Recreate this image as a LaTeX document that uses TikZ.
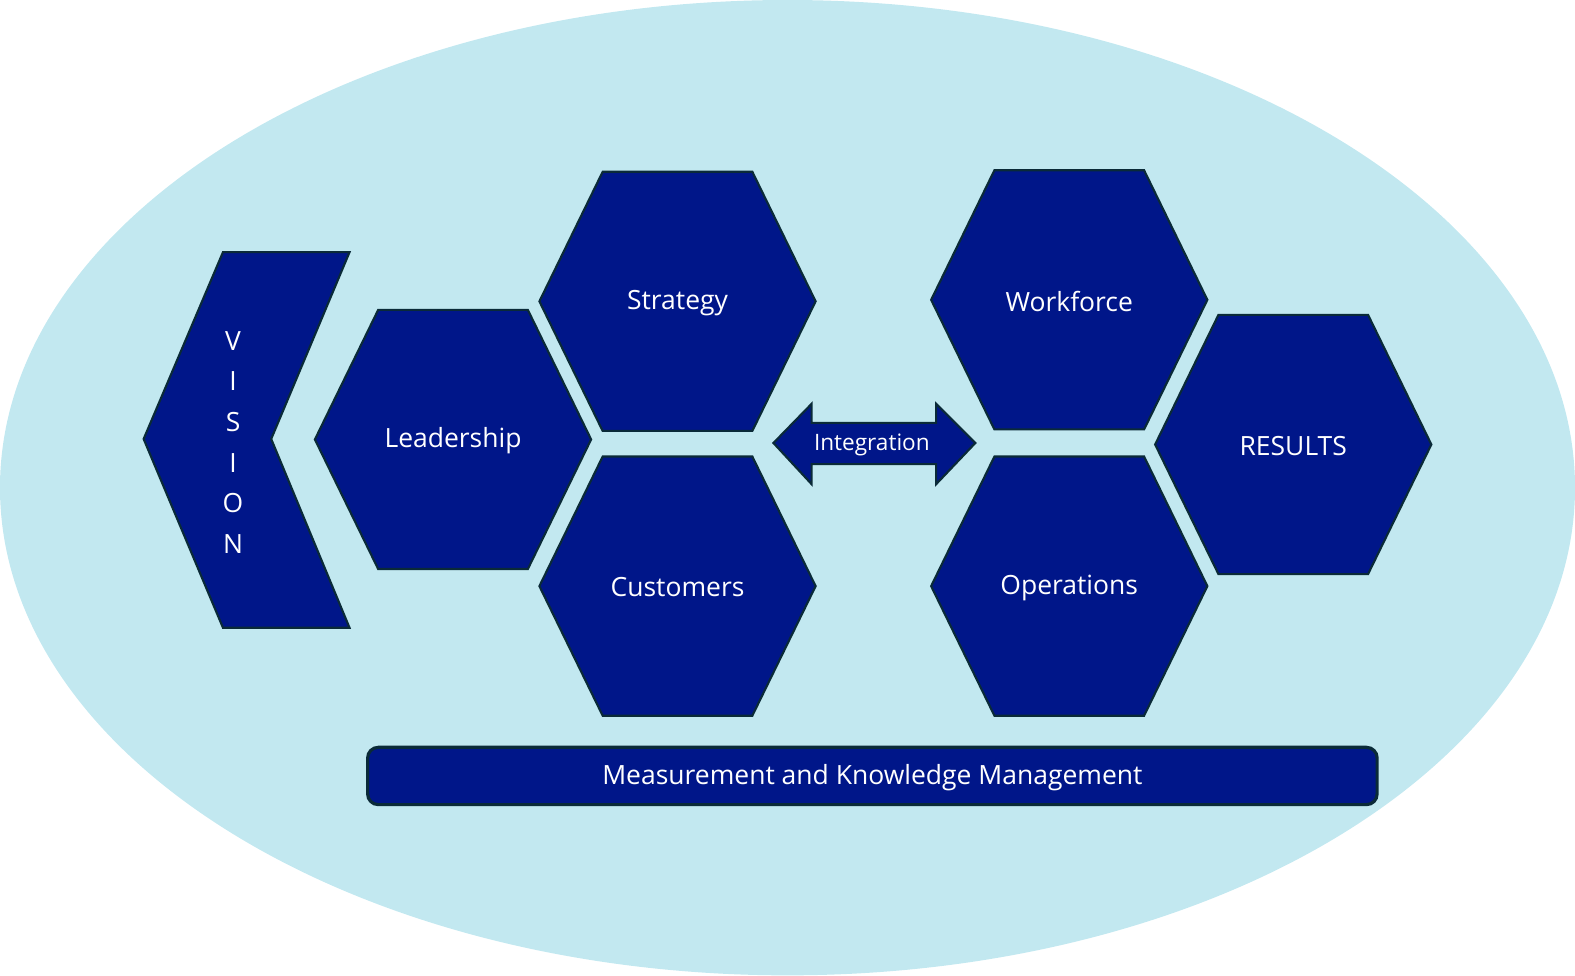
\documentclass[tikz,border=0pt]{standalone}
\usepackage{fontspec}
\setmainfont{Open Sans}
\usepackage{tikz}
\usetikzlibrary{calc,positioning}
\usepackage{xcolor}
\definecolor{bnavy}{HTML}{001689}
\definecolor{bedge}{HTML}{0A2A38}
\definecolor{bsky}{HTML}{C2E8F0}

% one hexagon cell: name, centre, label
\newcommand{\hexcell}[3]{%
  \draw[cell, shift={(#2)}] (-137.5,0) -- (-74.5,-129) -- (74.5,-129) -- (137.5,0)
    -- (74.5,129) -- (-74.5,129) -- cycle;
  \node[celltext] (#1) at (#2) {#3};}

\begin{document}
\begin{tikzpicture}[x=0.1mm, y=-0.1mm,
  cell/.style={fill=bnavy, draw=bedge, line width=0.6pt},
  celltext/.style={text=white, font=\fontsize{7.5}{8}\selectfont, yshift=-0.4pt},
  smalltext/.style={text=white, font=\fontsize{6.4}{7}\selectfont}
]
  \useasboundingbox (0,0) rectangle (1568,971);

  % Background
  \fill[bsky] (784,485.5) ellipse [x radius=784, y radius=485.5];

  % Vision chevron
  \draw[cell] (222,251) -- (348,251) -- (270,437) -- (348,625) -- (222,625) -- (143,437) -- cycle;
  \node[celltext, align=center] (vision) at (232,439)
    {V\\[3.5pt]I\\[3.5pt]S\\[3.5pt]I\\[3.5pt]O\\[3.5pt]N};

  % Hexagons
  \hexcell{lead}{451,437.5}{Leadership}
  \hexcell{strat}{674.5,300}{Strategy}
  \hexcell{cust}{674.5,583.5}{Customers}
  \hexcell{work}{1064.5,298.5}{Workforce}
  \hexcell{oper}{1064.5,583.5}{Operations}
  \hexcell{res}{1287.5,442.5}{RESULTS}

  % Integration arrow
  \draw[cell] (770,441) -- (808,402) -- (808,421) -- (932,421) -- (932,402) -- (971,441)
    -- (932,482) -- (932,462) -- (808,462) -- (808,482) -- cycle;
  \node[smalltext] (integ) at (868,443) {Integration};

  % Measurement bar
  \draw[cell, rounded corners=3pt, line width=0.9pt] (366,744) rectangle (1371,801);
  \node[celltext] (meas) at (868.5,773) {Measurement and Knowledge Management};
\end{tikzpicture}
\end{document}
